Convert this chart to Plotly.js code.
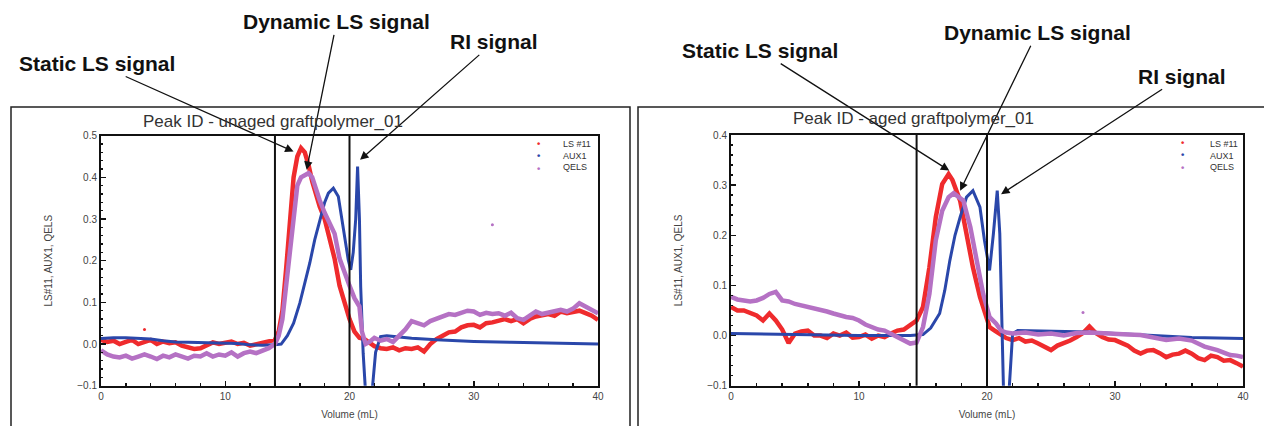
<!DOCTYPE html>
<html>
<head>
<meta charset="utf-8">
<script src="https://cdn.plot.ly/plotly-3.0.1.min.js"></script>
<style>html,body{margin:0;padding:0;background:#fff;} #chart{width:1264px;height:426px;}</style>
</head>
<body>
<div id="chart"></div>
<script>
// ---------- texts ----------
const titleUnaged = 'Peak ID - unaged graftpolymer_01';
const titleAged = 'Peak ID - aged graftpolymer_01';
const seriesNames = ['LS #11', 'AUX1', 'QELS'];
const xTickVals = [0, 10, 20, 30, 40];
const peakLimitsUnaged = [14, 20];
const peakLimitsAged = [14.5, 20];

// ---------- Panel 1: unaged graftpolymer ----------
const lsUnagedX = [0,0.5,1,1.5,2,2.5,3,3.5,4,4.5,5,5.5,6,6.5,7,7.5,8,8.5,9,9.5,10,10.5,11,11.5,12,12.5,13,13.5,14,14.3,14.6,14.9,15.2,15.5,15.8,16.1,16.4,16.7,17.0,17.3,17.6,18.0,18.4,18.8,19.2,19.6,20.0,20.4,20.8,21.2,21.6,22,22.5,23,23.5,24,24.5,25,25.5,26,26.5,27,27.5,28,28.5,29,29.5,30,30.5,31,31.5,32,32.5,33,33.5,34,34.5,35,35.5,36,36.5,37,37.5,38,38.5,39,39.5,40];
const lsUnagedY = [0.010,0.005,0.008,0.000,0.005,0.010,0.000,0.005,0.010,0.000,0.006,0.002,0.004,-0.004,-0.008,-0.012,-0.010,-0.004,0.004,0.000,0.002,0.006,0.000,0.003,-0.004,0.000,0.004,0.006,0.010,0.030,0.080,0.180,0.300,0.400,0.450,0.470,0.460,0.430,0.390,0.360,0.330,0.300,0.255,0.205,0.140,0.100,0.060,0.030,0.015,0.012,0.005,-0.005,-0.010,-0.012,-0.008,-0.015,-0.010,-0.012,-0.008,-0.018,0.000,0.012,0.020,0.028,0.030,0.040,0.045,0.046,0.040,0.050,0.052,0.056,0.060,0.055,0.060,0.050,0.060,0.066,0.070,0.072,0.068,0.078,0.074,0.076,0.080,0.074,0.068,0.058];

const auxUnagedX = [0,1,2,3,4,5,6,7,8,9,10,11,12,13,14,14.5,15.0,15.5,16.0,16.4,16.8,17.2,17.6,18.0,18.3,18.7,19.1,19.5,19.9,20.1,20.3,20.5,20.65,20.8,20.9,21.1,21.3,21.8,22.1,22.5,23,24,25,27,30,33,36,40];
const auxUnagedY = [0.013,0.015,0.015,0.014,0.012,0.008,0.005,0.004,0.003,0.002,0.002,0.001,-0.002,-0.003,-0.002,0.000,0.020,0.050,0.098,0.145,0.194,0.250,0.298,0.340,0.362,0.374,0.354,0.282,0.202,0.178,0.220,0.300,0.426,0.300,0.138,-0.022,-0.120,-0.120,-0.020,0.018,0.020,0.017,0.014,0.010,0.006,0.004,0.002,0.000];

const qelsUnagedX = [0,0.5,1,1.5,2,2.5,3,3.5,4,4.5,5,5.5,6,6.5,7,7.5,8,8.5,9,9.5,10,10.5,11,11.5,12,12.5,13,13.5,14,14.3,14.6,14.9,15.2,15.5,15.8,16.1,16.4,16.7,17.0,17.3,17.6,18.0,18.4,18.8,19.2,19.6,20.0,20.4,20.8,21.0,21.3,21.6,22,22.5,23,23.5,24,24.5,25,25.5,26,26.5,27,27.5,28,28.5,29,29.5,30,30.5,31,31.5,32,32.5,33,33.5,34,34.5,35,35.5,36,36.5,37,37.5,38,38.5,39,39.5,40];
const qelsUnagedY = [-0.015,-0.025,-0.030,-0.032,-0.028,-0.035,-0.030,-0.025,-0.030,-0.036,-0.028,-0.032,-0.025,-0.030,-0.035,-0.028,-0.030,-0.022,-0.030,-0.025,-0.028,-0.020,-0.030,-0.022,-0.018,-0.022,-0.015,-0.010,0.000,0.020,0.060,0.140,0.240,0.320,0.380,0.400,0.405,0.410,0.400,0.370,0.345,0.315,0.290,0.265,0.205,0.170,0.140,0.110,0.090,0.030,0.000,0.005,0.015,0.008,0.012,0.005,0.020,0.035,0.055,0.050,0.045,0.055,0.060,0.065,0.072,0.070,0.076,0.080,0.078,0.070,0.075,0.072,0.074,0.068,0.075,0.062,0.058,0.068,0.078,0.072,0.076,0.080,0.082,0.078,0.085,0.098,0.090,0.085,0.074];

const lsUnagedOutX = [3.5];
const lsUnagedOutY = [0.035];
const qelsUnagedOutX = [31.5];
const qelsUnagedOutY = [0.286];

// ---------- Panel 2: aged graftpolymer ----------
const lsAgedX = [0,0.5,1,1.5,2,2.5,3,3.5,4,4.5,5,5.5,6,6.5,7,7.5,8,8.5,9,9.5,10,10.5,11,11.5,12,12.5,13,13.5,14,14.5,15,15.5,16,16.5,17,17.3,17.9,18.4,18.9,19.45,20.0,20.2,20.6,21,21.5,22,22.5,23,23.5,24,24.5,25,25.5,26,26.5,27,27.5,28,28.5,29,29.5,30,30.5,31,31.5,32,32.5,33,33.5,34,34.5,35,35.5,36,36.5,37,37.5,38,38.5,39,39.5,40];
const lsAgedY = [0.057,0.050,0.050,0.045,0.040,0.030,0.044,0.030,0.012,-0.015,0.004,0.008,0.010,0.000,0.000,-0.005,0.004,0.000,0.006,-0.004,-0.003,0.002,-0.006,0.000,-0.003,0.004,0.010,0.012,0.020,0.030,0.057,0.136,0.236,0.302,0.322,0.310,0.269,0.203,0.136,0.077,0.030,0.017,0.010,0.004,-0.005,-0.009,-0.005,-0.012,-0.010,-0.016,-0.022,-0.029,-0.020,-0.016,-0.010,-0.003,0.005,0.018,0.005,-0.003,-0.008,-0.009,-0.015,-0.020,-0.030,-0.036,-0.030,-0.029,-0.035,-0.043,-0.038,-0.036,-0.030,-0.036,-0.045,-0.049,-0.040,-0.043,-0.050,-0.049,-0.055,-0.062];

const auxAgedX = [0,2,4,6,8,10,12,14,15,15.6,16.3,16.7,17.1,17.5,17.9,18.4,18.9,19.45,19.8,20.2,20.5,20.8,21.0,21.1,21.3,21.7,22.0,22.4,25,28,30,33,36,40];
const auxAgedY = [0.004,0.003,0.003,0.002,0.001,0.000,0.000,0.000,0.002,0.015,0.044,0.090,0.150,0.200,0.236,0.276,0.289,0.256,0.190,0.130,0.203,0.289,0.203,0.070,-0.120,-0.120,0.004,0.010,0.009,0.007,0.004,0.000,-0.004,-0.006];

const qelsAgedX = [0,0.5,1,1.5,2,2.5,3,3.5,4,4.5,5,5.5,6,6.5,7,7.5,8,8.5,9,9.5,10,10.5,11,11.5,12,12.5,13,13.5,14,14.5,15,15.5,16,16.5,17,17.4,18.15,18.7,19.2,19.7,20.2,20.7,21.1,21.5,22,23,24,25,26,27,28,29,30,31,32,33,34,35,36,37,37.5,38,38.5,39,39.5,40];
const qelsAgedY = [0.077,0.072,0.070,0.068,0.070,0.075,0.083,0.087,0.070,0.068,0.063,0.060,0.057,0.055,0.053,0.048,0.044,0.040,0.037,0.035,0.030,0.022,0.017,0.012,0.010,0.004,-0.003,-0.008,-0.016,-0.014,0.017,0.083,0.190,0.249,0.276,0.284,0.269,0.216,0.150,0.083,0.037,0.024,0.010,0.006,0.004,0.006,0.002,0.004,0.000,0.005,0.006,0.004,0.003,0.002,0.001,-0.004,-0.009,-0.006,-0.010,-0.022,-0.025,-0.029,-0.034,-0.039,-0.040,-0.043];

const qelsAgedOutX = [27.5];
const qelsAgedOutY = [0.046];

// ---------- styles ----------
const RED = '#ef2b2d', BLUE = '#2a47aa', PURPLE = '#b571c4';
const colors = [RED, BLUE, PURPLE];

function line(x, y, color, w, xa, ya, name) {
  return {x: x, y: y, type: 'scatter', mode: 'lines', name: name, line: {color: color, width: w, shape: 'linear'},
          xaxis: xa, yaxis: ya, showlegend: false, hoverinfo: 'skip'};
}
function pts(x, y, color, xa, ya) {
  return {x: x, y: y, type: 'scatter', mode: 'markers', marker: {color: color, size: 3},
          xaxis: xa, yaxis: ya, showlegend: false, hoverinfo: 'skip'};
}

const data = [
  line(lsUnagedX, lsUnagedY, RED, 4.5, 'x', 'y', seriesNames[0]),
  pts(lsUnagedOutX, lsUnagedOutY, RED, 'x', 'y'),
  line(auxUnagedX, auxUnagedY, BLUE, 3, 'x', 'y', seriesNames[1]),
  line(qelsUnagedX, qelsUnagedY, PURPLE, 4.5, 'x', 'y', seriesNames[2]),
  pts(qelsUnagedOutX, qelsUnagedOutY, PURPLE, 'x', 'y'),
  line(lsAgedX, lsAgedY, RED, 4.5, 'x2', 'y2', seriesNames[0]),
  line(auxAgedX, auxAgedY, BLUE, 3, 'x2', 'y2', seriesNames[1]),
  line(qelsAgedX, qelsAgedY, PURPLE, 4.5, 'x2', 'y2', seriesNames[2]),
  pts(qelsAgedOutX, qelsAgedOutY, PURPLE, 'x2', 'y2')
];

const tickFont = {family: 'Arial, Liberation Sans, sans-serif', size: 10, color: '#444'};
function xaxisCfg(domain, anchor) {
  return {domain: domain, anchor: anchor, range: [0, 40], tickvals: xTickVals, ticks: 'inside', ticklen: 5, tickwidth: 1.5,
          tickcolor: '#111', minor: {dtick: 2, ticks: 'inside', ticklen: 3, tickcolor: '#111'},
          showline: true, mirror: true, linewidth: 2, linecolor: '#111', showgrid: false, zeroline: false,
          tickfont: tickFont, automargin: false,
          title: {text: 'Volume (mL)', font: tickFont, standoff: 10}};
}
function yaxisCfg(domain, anchor, range) {
  return {domain: domain, anchor: anchor, range: range, dtick: 0.1, tickformat: '.1f', ticks: 'inside', ticklen: 5,
          tickwidth: 1.5, tickcolor: '#111', minor: {dtick: 0.02, ticks: 'inside', ticklen: 2, tickcolor: '#111'},
          showline: true, mirror: true, linewidth: 2, linecolor: '#111', showgrid: false, zeroline: false,
          tickfont: tickFont, automargin: false,
          title: {text: 'LS#11, AUX1, QELS', font: tickFont, standoff: 23}};
}

const shapes = [];
peakLimitsUnaged.forEach(v => shapes.push({type: 'line', xref: 'x', yref: 'y domain', x0: v, x1: v, y0: 0, y1: 1,
  line: {color: '#111', width: 2}}));
peakLimitsAged.forEach(v => shapes.push({type: 'line', xref: 'x2', yref: 'y2 domain', x0: v, x1: v, y0: 0, y1: 1,
  line: {color: '#111', width: 2}}));
// outer frames
shapes.push({type: 'rect', xref: 'paper', yref: 'paper', x0: 11/1264, x1: 630/1264, y0: -0.2, y1: (426-107)/426,
  line: {color: '#222', width: 1.5}});
shapes.push({type: 'rect', xref: 'paper', yref: 'paper', x0: 638/1264, x1: 1.05, y0: -0.2, y1: (426-107)/426,
  line: {color: '#222', width: 1.5}});

const callFont = {family: 'Liberation Sans Narrow, Arial Narrow, Arial, sans-serif', size: 21, color: '#111', weight: 'bold'};
function callout(text, xa, ya, x, y, ax, ay) {
  return {text: '<b>' + text + '</b>', xref: xa, yref: ya, x: x, y: y, ax: ax, ay: ay, showarrow: true,
          arrowhead: 2, arrowsize: 1.3, arrowwidth: 1.3, arrowcolor: '#111', font: callFont, standoff: 0};
}
const titleFont = {family: 'Arial, Liberation Sans, sans-serif', size: 17, color: '#333'};
const annotations = [
  callout('Static LS signal', 'x', 'y', 15.5, 0.462, -197, -88),
  callout('Dynamic LS signal', 'x', 'y', 16.55, 0.418, 30, -148),
  callout('RI signal', 'x', 'y', 20.85, 0.442, 134, -118),
  callout('Static LS signal', 'x2', 'y2', 17.05, 0.329, -189, -120),
  callout('Dynamic LS signal', 'x2', 'y2', 17.9, 0.289, 77, -158),
  callout('RI signal', 'x2', 'y2', 21.1, 0.282, 181, -118),
  {text: titleUnaged, xref: 'paper', yref: 'paper', x: 273/1264, y: (426-121)/426, xanchor: 'center', yanchor: 'middle',
   showarrow: false, font: titleFont},
  {text: titleAged, xref: 'paper', yref: 'paper', x: 913/1264, y: (426-118)/426, xanchor: 'center', yanchor: 'middle',
   showarrow: false, font: titleFont}
];

// legends (dots column + names column) for each panel
const legFont = {family: 'Arial, Liberation Sans, sans-serif', size: 9, color: '#333'};
const dotsText = colors.map(c => '<b><span style="color:' + c + '">•</span></b>').join('<br>');
const namesText = seriesNames.join('<br>');
function legendAnn(dotX, textX, midY) {
  return [
    {text: dotsText, xref: 'paper', yref: 'paper', x: dotX/1264, y: (426-midY)/426, xanchor: 'center', yanchor: 'middle',
     showarrow: false, font: {family: legFont.family, size: 9.5, color: '#333'}, align: 'center'},
    {text: namesText, xref: 'paper', yref: 'paper', x: textX/1264, y: (426-midY)/426, xanchor: 'left', yanchor: 'middle',
     showarrow: false, font: legFont, align: 'left'}
  ];
}
legendAnn(539, 561, 156).forEach(a => annotations.push(a));
legendAnn(1183, 1208, 155).forEach(a => annotations.push(a));

const layout = {
  width: 1264, height: 426, margin: {l: 0, r: 0, t: 0, b: 0},
  paper_bgcolor: '#fff', plot_bgcolor: '#fff', showlegend: false,
  xaxis: xaxisCfg([101/1264, 598/1264], 'y'),
  yaxis: yaxisCfg([(426-385.7)/426, (426-135.7)/426], 'x', [-0.1, 0.5]),
  xaxis2: xaxisCfg([731/1264, 1243/1264], 'y2'),
  yaxis2: yaxisCfg([(426-385.7)/426, (426-135)/426], 'x2', [-0.1, 0.4]),
  shapes: shapes,
  annotations: annotations
};

Plotly.newPlot('chart', data, layout, {displayModeBar: false, staticPlot: true});
</script>
</body>
</html>
